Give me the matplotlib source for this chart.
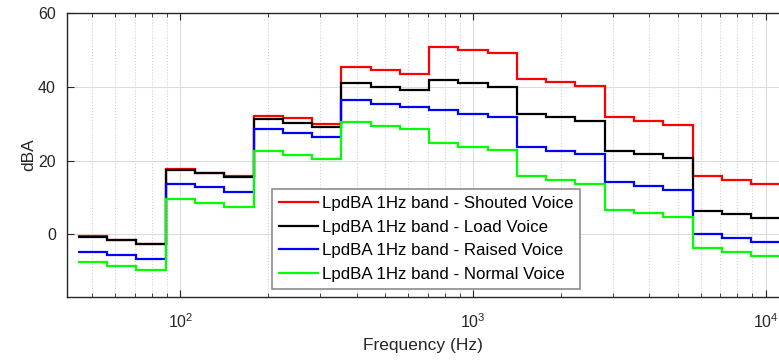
# -*- coding: utf-8 -*-
"""
LpdBA (1 Hz band) speech spectra per third-octave band
"""

import matplotlib.pyplot as plt
import numpy as np

# third-octave band centres (Hz)
band_centres = [50, 63, 80, 100, 125, 160, 200, 250, 315, 400, 500, 630,
                800, 1000, 1250, 1600, 2000, 2500, 3150, 4000, 5000, 6300, 8000, 10000]

# LpdBA in 1 Hz band (dBA)
shouted = [-0.5, -1.5, -2.5, 17.7, 16.7, 15.7, 32.2, 31.4, 30.0, 45.3, 44.5, 43.5,
           50.9, 50.0, 49.1, 42.2, 41.3, 40.2, 31.7, 30.6, 29.6, 15.7, 14.7, 13.7]
loud = [-0.6, -1.6, -2.6, 17.5, 16.6, 15.6, 31.3, 30.2, 29.2, 41.0, 40.0, 39.1,
        41.9, 40.9, 39.9, 32.7, 31.7, 30.7, 22.7, 21.7, 20.6, 6.4, 5.4, 4.4]
raised = [-4.7, -5.6, -6.6, 13.6, 12.7, 11.6, 28.6, 27.6, 26.5, 36.4, 35.4, 34.4,
          33.6, 32.6, 31.7, 23.8, 22.7, 21.7, 14.1, 13.1, 12.1, 0.0, -1.1, -2.1]
normal = [-7.6, -8.6, -9.6, 9.7, 8.6, 7.5, 22.7, 21.6, 20.5, 30.4, 29.4, 28.5,
          24.7, 23.7, 22.8, 15.7, 14.6, 13.7, 6.6, 5.7, 4.7, -3.8, -4.9, -5.9]

labels = ['LpdBA 1Hz band - Shouted Voice',
          'LpdBA 1Hz band - Load Voice',
          'LpdBA 1Hz band - Raised Voice',
          'LpdBA 1Hz band - Normal Voice']

# band edges from exact base-10 centres
exact = 1000 * 10 ** (np.round(10 * np.log10(np.array(band_centres) / 1000)) / 10)
edges = np.append(exact * 10 ** -0.05, exact[-1] * 10 ** 0.05)

plt.rcParams['font.family'] = ['Liberation Sans', 'DejaVu Sans']
plt.rcParams['mathtext.fontset'] = 'custom'
plt.rcParams['mathtext.rm'] = 'Liberation Sans'

fig = plt.figure(figsize=(7.79, 3.6), dpi=100)
ax = fig.add_axes([67 / 779, 1 - 297 / 360, 1 - 67 / 779, 284 / 360])

for vals, col, lab in zip([shouted, loud, raised, normal],
                          ['#ff0000', '#000000', '#0000ff', '#00ff00'], labels):
    ax.stairs(vals, edges, color=col, linewidth=1.6, label=lab, baseline=None)

ax.set_xscale('log')
ax.set_xlim(41, 11100)
ax.set_ylim(-17, 60)
ax.set_yticks([0, 20, 40, 60])

ax.grid(True, which='major', color='#dcdcdc', linewidth=0.8, linestyle='-')
ax.grid(True, which='minor', axis='x', color='#d0d0d0', linewidth=0.8, linestyle=':')
ax.set_axisbelow(True)

ax.spines['right'].set_visible(False)
for s in ['left', 'bottom', 'top']:
    ax.spines[s].set_color('#262626')
    ax.spines[s].set_linewidth(1.0)
ax.tick_params(which='both', direction='in', top=True, right=False,
               labelsize=11.5, colors='#262626')
ax.tick_params(which='major', length=5)
ax.tick_params(which='minor', length=3)
ax.tick_params(axis='x', pad=11)
ax.tick_params(axis='y', pad=8)

ax.set_xlabel('Frequency (Hz)', fontsize=12.5, color='#262626', labelpad=5)
ax.set_ylabel('dBA', fontsize=12.5, color='#262626', labelpad=1)

leg = ax.legend(loc='lower left', bbox_to_anchor=(272 / 779, 1 - 289 / 360),
                bbox_transform=fig.transFigure, borderaxespad=0,
                fontsize=12.2, handlelength=2.3, handletextpad=0.25,
                labelspacing=0.52, borderpad=0.4, fancybox=False,
                framealpha=1, edgecolor='#8c8c8c')
leg.get_frame().set_linewidth(1.2)

plt.savefig('out.png', dpi=100)
